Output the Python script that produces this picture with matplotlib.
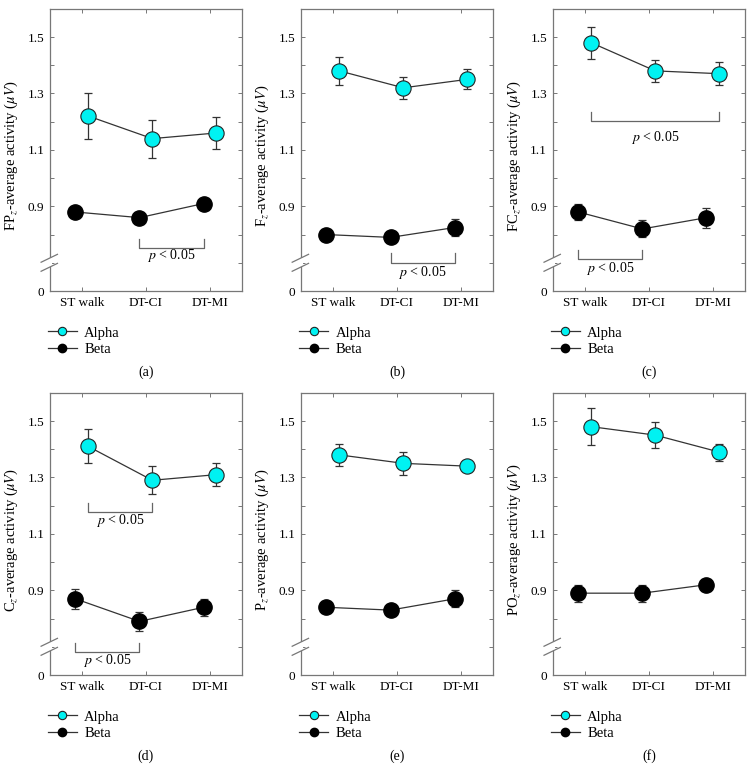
import matplotlib
matplotlib.use('Agg')
import matplotlib.pyplot as plt
import matplotlib.transforms as mtransforms
from matplotlib.lines import Line2D
from matplotlib.patches import Rectangle
import numpy as np

plt.rcParams['font.family'] = ['Liberation Serif', 'DejaVu Serif']
plt.rcParams['mathtext.fontset'] = 'stix'
plt.rcParams['font.size'] = 9.5

conditions = ['ST walk', 'DT-CI', 'DT-MI']
panel_tags = ['(a)', '(b)', '(c)', '(d)', '(e)', '(f)']
sites = ['FP', 'F', 'FC', 'C', 'P', 'PO']

alpha_mean = [
    [1.22, 1.14, 1.16],
    [1.38, 1.32, 1.35],
    [1.48, 1.38, 1.37],
    [1.41, 1.29, 1.31],
    [1.38, 1.35, 1.34],
    [1.48, 1.45, 1.39],
]
alpha_err = [
    [0.08, 0.067, 0.057],
    [0.05, 0.04, 0.035],
    [0.057, 0.04, 0.041],
    [0.06, 0.05, 0.04],
    [0.04, 0.04, 0.015],
    [0.065, 0.045, 0.03],
]
beta_mean = [
    [0.88, 0.86, 0.91],
    [0.80, 0.79, 0.825],
    [0.88, 0.82, 0.86],
    [0.87, 0.79, 0.84],
    [0.84, 0.83, 0.87],
    [0.89, 0.89, 0.92],
]
beta_err = [
    [0.015, 0.015, 0.015],
    [0.015, 0.015, 0.03],
    [0.03, 0.03, 0.035],
    [0.035, 0.035, 0.03],
    [0.015, 0.015, 0.03],
    [0.03, 0.03, 0.015],
]

# significance brackets per panel: (x from, x to, bar y, end y, text y)
sig_brackets = [
    [(0.9, 1.9, 0.754, 0.786, 0.727)],
    [(0.9, 1.9, 0.700, 0.733, 0.665)],
    [(0.1, 2.1, 1.201, 1.235, 1.145), (-0.1, 0.9, 0.712, 0.745, 0.680)],
    [(0.1, 1.1, 1.176, 1.209, 1.149), (-0.1, 0.9, 0.682, 0.715, 0.653)],
    [],
    [],
]

# y axis is broken: the bottom value 0.6 is shown as "0"
ytick_vals = np.arange(0.6, 1.61, 0.1)
ytick_labels = ['0', '', '', '0.9', '', '1.1', '', '1.3', '', '1.5', '']

cyan = '#00f2f2'
edge = '#222222'
line_c = '#333333'
frame_c = '#777777'

fig = plt.figure(figsize=(7.54, 7.84), dpi=100)
lefts = [0.066, 0.399, 0.733]
bottoms = [0.6288, 0.139]
w, h = 0.255, 0.36

x = np.arange(len(conditions))
off = 0.1

for i in range(6):
    ax = fig.add_axes([lefts[i % 3], bottoms[i // 3], w, h])

    ax.errorbar(x + off, alpha_mean[i], yerr=alpha_err[i], fmt='none',
                ecolor=line_c, elinewidth=0.9, capsize=3, capthick=0.9, zorder=2)
    ax.errorbar(x - off, beta_mean[i], yerr=beta_err[i], fmt='none',
                ecolor=line_c, elinewidth=0.9, capsize=3, capthick=0.9, zorder=2)
    ax.plot(x + off, alpha_mean[i], color=line_c, lw=0.9, marker='o', ms=11,
            mfc=cyan, mec=edge, mew=0.8, zorder=3)
    ax.plot(x - off, beta_mean[i], color=line_c, lw=0.9, marker='o', ms=11,
            mfc='black', mec='black', zorder=3)

    for x1, x2, yb, ye, yt in sig_brackets[i]:
        ax.plot([x1, x1, x2, x2], [ye, yb, yb, ye], color='#666666', lw=0.9)
        ax.text((x1 + x2) / 2, yt, r'$p$ < 0.05', ha='center', va='center', fontsize=10)

    ax.set_xlim(-0.5, 2.5)
    ax.set_ylim(0.6, 1.6)
    ax.set_xticks(x)
    ax.set_xticklabels(conditions)
    ax.set_yticks(ytick_vals)
    ax.set_yticklabels(ytick_labels)
    ax.tick_params(direction='in', length=3, width=0.7, color=frame_c,
                   top=True, right=True, labelsize=9.5, pad=4)
    for sp in ax.spines.values():
        sp.set_color(frame_c)
        sp.set_linewidth(0.9)

    ax.set_ylabel(sites[i] + r'$_z$-average activity ($\mu V$)', fontsize=10.5)
    ax.yaxis.set_label_coords(-0.155, 0.48)

    # break marks on the left spine
    tr = mtransforms.blended_transform_factory(ax.transAxes, ax.transData)
    yb = 0.7
    ax.add_patch(Rectangle((-0.012, yb - 0.016), 0.024, 0.032, transform=tr,
                           facecolor='white', edgecolor='none', clip_on=False, zorder=5))
    for dy in (-0.016, 0.016):
        ax.plot([-0.045, 0.04], [yb + dy - 0.014, yb + dy + 0.014], transform=tr,
                color=frame_c, lw=0.9, clip_on=False, zorder=6)

    handles = [
        Line2D([], [], color=line_c, lw=0.9, marker='o', ms=6, mfc=cyan, mec=edge, mew=0.8),
        Line2D([], [], color=line_c, lw=0.9, marker='o', ms=6, mfc='black', mec='black'),
    ]
    ax.legend(handles, ['Alpha', 'Beta'], loc='upper left', bbox_to_anchor=(-0.01, -0.125),
              frameon=False, handlelength=2.0, handletextpad=0.5, labelspacing=0.2,
              borderpad=0, borderaxespad=0, fontsize=10.5)

    ax.text(0.5, -0.287, panel_tags[i], transform=ax.transAxes, ha='center', va='center',
            fontsize=10)

fig.savefig('out.png', dpi=100)
